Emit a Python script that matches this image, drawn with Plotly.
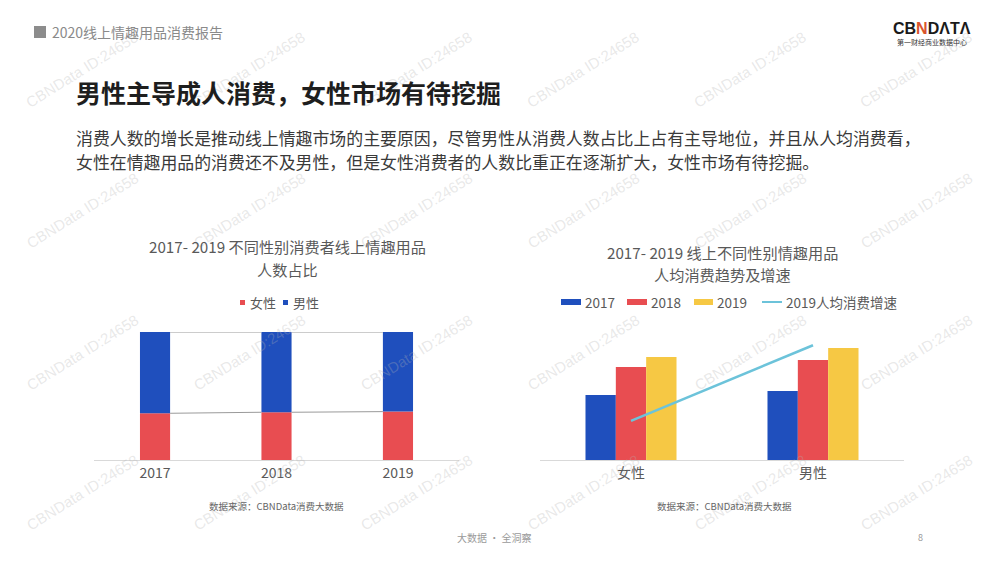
import plotly.graph_objects as go

# ---------------- data ----------------
years = ["2017", "2018", "2019"]
female_share = [36.5, 37.3, 37.8]          # 人数占比 (%)
male_share = [100 - v for v in female_share]

genders = ["女性", "男性"]
spend_2017 = [65, 69]                        # 人均消费 (index)
spend_2018 = [93, 100]
spend_2019 = [103, 112]
growth_2019 = [10.8, 12.0]                   # 2019人均消费增速 (%)

# ---------------- style ----------------
W, H = 1000, 563
CJK = "Noto Sans CJK SC, Noto Sans, sans-serif"
BLUE = "#1f4fbd"
RED = "#e84d51"
YELLOW = "#f6c844"
TEAL = "#6cc3da"
GRAY_T = "#595959"

def px(x):
    return x / W

def py(y):
    return 1 - y / H

fig = go.Figure()

# ---------- left chart: stacked share ----------
xi = list(range(len(years)))
bw = 0.248
fig.add_trace(go.Bar(x=xi, y=female_share, width=bw, offset=-bw / 2,
                     marker=dict(color=RED, line_width=0), name="女性",
                     xaxis="x", yaxis="y", showlegend=False))
fig.add_trace(go.Bar(x=xi, y=male_share, base=female_share, width=bw, offset=-bw / 2,
                     marker=dict(color=BLUE, line_width=0), name="男性",
                     xaxis="x", yaxis="y", showlegend=False))
# series lines between stacks
tops = [f + m for f, m in zip(female_share, male_share)]
for i in range(len(years) - 1):
    for serie in (female_share, tops):
        fig.add_trace(go.Scatter(x=[i + bw / 2, i + 1 - bw / 2], y=[serie[i], serie[i + 1]],
                                 mode="lines", line=dict(color="#9a9a9a", width=1),
                                 xaxis="x", yaxis="y", showlegend=False, hoverinfo="skip"))

# ---------- right chart: grouped bars + line ----------
gi = list(range(len(genders)))
gw = 0.1667
for vals, col, nm, k in ((spend_2017, BLUE, "2017", -1), (spend_2018, RED, "2018", 0),
                         (spend_2019, YELLOW, "2019", 1)):
    fig.add_trace(go.Bar(x=gi, y=vals, width=gw, offset=k * gw - gw / 2,
                         marker=dict(color=col, line_width=0), name=nm,
                         xaxis="x2", yaxis="y2", showlegend=False))
fig.add_trace(go.Scatter(x=gi, y=growth_2019, mode="lines", name="2019人均消费增速",
                         line=dict(color=TEAL, width=2.5),
                         xaxis="x2", yaxis="y3", showlegend=False))

ybot = py(460)
fig.update_layout(
    width=W, height=H, autosize=False,
    margin=dict(l=0, r=0, t=0, b=0, pad=0),
    paper_bgcolor="white", plot_bgcolor="rgba(0,0,0,0)",
    font=dict(family=CJK, color=GRAY_T),
    barmode="group",
    xaxis=dict(domain=[px(94.3), px(458.7)], range=[-0.5, 2.5],
               tickmode="array", tickvals=xi, ticktext=years,
               tickfont=dict(size=14, color=GRAY_T), ticks="", showgrid=False,
               zeroline=False, showline=True, linecolor="#d9d9d9", linewidth=1,
               anchor="y", fixedrange=True),
    yaxis=dict(domain=[ybot, py(332)], range=[0, 100], visible=False, anchor="x",
               fixedrange=True),
    xaxis2=dict(domain=[px(540), px(904)], range=[-0.5, 1.5],
                tickmode="array", tickvals=gi, ticktext=genders,
                tickfont=dict(size=14, color=GRAY_T), ticks="", showgrid=False,
                zeroline=False, showline=True, linecolor="#d9d9d9", linewidth=1,
                anchor="y2", fixedrange=True),
    yaxis2=dict(domain=[ybot, py(320)], range=[0, 140], visible=False, anchor="x2",
                fixedrange=True),
    yaxis3=dict(overlaying="y2", range=[10.18, 12.40], visible=False, anchor="x2",
                fixedrange=True),
)

ann = []

# watermarks
for cy in (70, 210, 352, 492):
    for cx in (82, 249, 416, 583, 750, 916):
        ann.append(dict(x=px(cx), y=py(cy), xref="paper", yref="paper",
                        text="CBNData ID:24658", showarrow=False,
                        textangle=-32, font=dict(family="Liberation Sans, Arial", size=15,
                                                 color="rgba(180,180,180,0.3)"),
                        xanchor="center", yanchor="middle"))

def T(x, y, text, size, color=GRAY_T, anchor="left", family=CJK):
    ann.append(dict(x=px(x), y=py(y), xref="paper", yref="paper", text=text,
                    showarrow=False, xanchor=anchor,
                    yanchor="middle", font=dict(size=size, color=color, family=family)))

# header
T(50, 32, "2020线上情趣用品消费报告", 14, "#8a8a8a")
T(74, 92, "<b>男性主导成人消费，女性市场有待挖掘</b>", 25, "#1e1e1e")
T(74, 137, "消费人数的增长是推动线上情趣市场的主要原因，尽管男性从消费人数占比上占有主导地位，并且从人均消费看，", 16.9, "#3a3a3a")
T(74, 161, "女性在情趣用品的消费还不及男性，但是女性消费者的人数比重正在逐渐扩大，女性市场有待挖掘。", 16.9, "#3a3a3a")
# logo
T(932, 29, "<b>CB<span style='color:#d9542c'>N</span>DΛTΛ</b>", 16, "#1a1a1a", "center",
  "Liberation Sans, Arial")
T(932, 42, "第一财经商业数据中心", 7, "#333333", "center")

# left chart texts
T(287, 246, "2017- 2019 不同性别消费者线上情趣用品", 15.2, GRAY_T, "center")
T(287, 269, "人数占比", 15.2, GRAY_T, "center")
T(248, 302, "女性", 13, GRAY_T)
T(291, 302, "男性", 13, GRAY_T)
T(276, 506, "数据来源：CBNData消费大数据", 9.5, "#666666", "center")

# right chart texts
T(722, 252, "2017- 2019 线上不同性别情趣用品", 15.2, GRAY_T, "center")
T(722, 274, "人均消费趋势及增速", 15.2, GRAY_T, "center")
T(583, 302, "2017", 13.5, GRAY_T)
T(649, 302, "2018", 13.5, GRAY_T)
T(715, 302, "2019", 13.5, GRAY_T)
T(784, 302, "2019人均消费增速", 13.5, GRAY_T)
T(724, 506, "数据来源：CBNData消费大数据", 9.5, "#666666", "center")

# footer
T(494, 537, "大数据 · 全洞察", 10, "#9a9a9a", "center")
T(920, 537, "8", 9, "#9a9a9a", "center")

fig.update_layout(annotations=ann)

# legend swatches & header square
shapes = [
    dict(type="rect", xref="paper", yref="paper", x0=px(34), x1=px(46), y0=py(38), y1=py(26),
         fillcolor="#8c8c8c", line_width=0),
    dict(type="rect", xref="paper", yref="paper", x0=px(240), x1=px(245), y0=py(305), y1=py(300),
         fillcolor=RED, line_width=0),
    dict(type="rect", xref="paper", yref="paper", x0=px(283), x1=px(288), y0=py(305), y1=py(300),
         fillcolor=BLUE, line_width=0),
    dict(type="rect", xref="paper", yref="paper", x0=px(561), x1=px(581), y0=py(305), y1=py(299),
         fillcolor=BLUE, line_width=0),
    dict(type="rect", xref="paper", yref="paper", x0=px(627), x1=px(647), y0=py(305), y1=py(299),
         fillcolor=RED, line_width=0),
    dict(type="rect", xref="paper", yref="paper", x0=px(694), x1=px(713), y0=py(305), y1=py(299),
         fillcolor=YELLOW, line_width=0),
    dict(type="line", xref="paper", yref="paper", x0=px(762), x1=px(782), y0=py(302), y1=py(302),
         line=dict(color=TEAL, width=2)),
]
fig.update_layout(shapes=shapes)

fig.write_html("out.html", config={"displayModeBar": False, "staticPlot": True},
               post_script="document.body.style.margin='0';")
